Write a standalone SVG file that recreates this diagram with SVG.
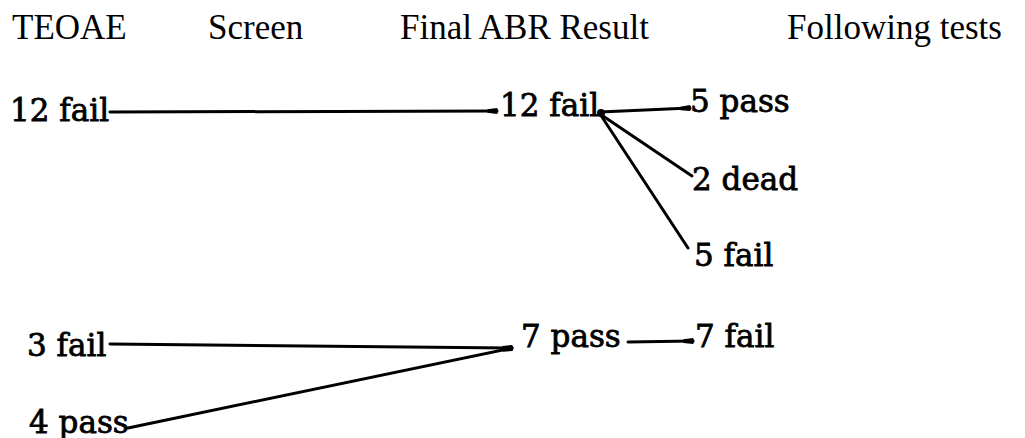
<svg xmlns="http://www.w3.org/2000/svg" width="1025" height="438" viewBox="0 0 1025 438">
<style>
.hdr{font-family:"Liberation Serif","Times New Roman",serif;font-size:35px;fill:#000}
.lbl{font-family:"DejaVu Serif","Liberation Serif",serif;font-size:31px;fill:#000;stroke:#000;stroke-width:0.8}
.con{stroke:#000;stroke-width:3;fill:none;stroke-linecap:round}
</style>
<defs>
<marker id="dot" viewBox="0 0 10 6" refX="8" refY="3" markerWidth="4" markerHeight="2.4" orient="auto" markerUnits="strokeWidth">
<path d="M0,1.5 L8,0.5 Q10,3 8,5.5 L0,4.5 Z" fill="#000"/>
</marker>
</defs>
<rect width="1025" height="438" fill="#fff"/>
<g id="headers">
<text class="hdr" x="12" y="39">TEOAE</text>
<text class="hdr" x="208" y="39">Screen</text>
<text class="hdr" x="400" y="39">Final ABR Result</text>
<text class="hdr" x="787" y="39">Following tests</text>
</g>
<g id="connectors">
<line class="con" x1="110" y1="112" x2="497" y2="111" marker-end="url(#dot)"/>
<line class="con" x1="600" y1="112" x2="690" y2="108" marker-end="url(#dot)"/>
<line class="con" x1="600" y1="114" x2="692" y2="176"/>
<line class="con" x1="600" y1="114" x2="688" y2="248"/>
<circle cx="601" cy="113" r="4" fill="#000"/>
<line class="con" x1="110" y1="344" x2="512" y2="348" marker-end="url(#dot)"/>
<line class="con" x1="128" y1="428" x2="512" y2="348" marker-end="url(#dot)"/>
<line class="con" x1="628" y1="342" x2="693" y2="341" marker-end="url(#dot)"/>
</g>
<g id="n-12fail-teoae"><text class="lbl" x="10" y="121">12 fail</text></g>
<g id="n-12fail-abr"><text class="lbl" x="500" y="116">12 fail</text></g>
<g id="n-5pass"><text class="lbl" x="690" y="112">5 pass</text></g>
<g id="n-2dead"><text class="lbl" x="692" y="190">2 dead</text></g>
<g id="n-5fail"><text class="lbl" x="694" y="266">5 fail</text></g>
<g id="n-3fail"><text class="lbl" x="27" y="356">3 fail</text></g>
<g id="n-4pass"><text class="lbl" x="29" y="433">4 pass</text></g>
<g id="n-7pass"><text class="lbl" x="521" y="347">7 pass</text></g>
<g id="n-7fail"><text class="lbl" x="695" y="347">7 fail</text></g>
</svg>
